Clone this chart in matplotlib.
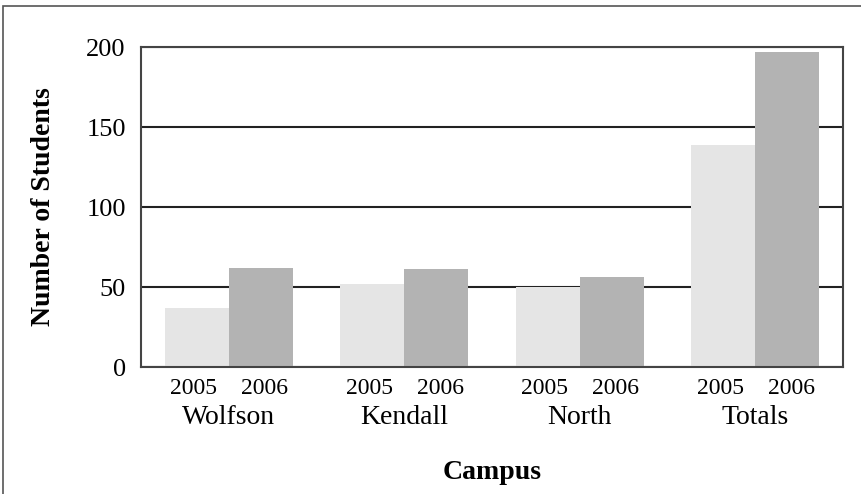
import matplotlib.pyplot as plt
import numpy as np
from matplotlib.patches import Rectangle
from matplotlib.transforms import ScaledTranslation

# data
campuses = ['Wolfson', 'Kendall', 'North', 'Totals']
years = ['2005', '2006']
students_2005 = [37, 52, 50, 139]
students_2006 = [62, 61, 56, 197]

plt.rcParams['font.family'] = ['Liberation Serif', 'DejaVu Serif']

fig = plt.figure(figsize=(8.62, 4.94), dpi=100)
ax = fig.add_axes([141 / 862, 1 - 367 / 494, 702 / 862, 320 / 494])

x = np.arange(len(campuses))
w = 0.364

# gridlines behind the bars
ax.set_axisbelow(True)
ax.yaxis.grid(True, color='#222222', linewidth=1.5)

ax.bar(x - w / 2, students_2005, width=w, color='#e5e5e5', zorder=2)
ax.bar(x + w / 2, students_2006, width=w, color='#b3b3b3', zorder=2)

ax.set_xlim(-0.5, 3.5)
ax.set_ylim(0, 200)
ax.set_yticks([0, 50, 100, 150, 200])
ax.tick_params(axis='y', length=0, pad=11, labelsize=19)

# years under each bar, campus names under each group
ax.set_xticks(np.concatenate([x - w / 2, x + w / 2]))
ax.set_xticklabels([years[0]] * 4 + [years[1]] * 4)
ax.set_xticks(x, minor=True)
ax.set_xticklabels(campuses, minor=True)
ax.tick_params(axis='x', which='major', length=0, pad=8, labelsize=17)
ax.tick_params(axis='x', which='minor', length=0, pad=27, labelsize=20)

# nudge the year labels a little apart
for i, lab in enumerate(ax.get_xticklabels()):
    dx = -3 if i < 4 else 4
    lab.set_transform(lab.get_transform() + ScaledTranslation(dx / 100, 0, fig.dpi_scale_trans))

for s in ax.spines.values():
    s.set_color('#444444')
    s.set_linewidth(1.5)

ax.set_ylabel('Number of Students', fontsize=20, fontweight='bold', labelpad=22)
ax.set_xlabel('Campus', fontsize=20, fontweight='bold', labelpad=22)

# outer frame (clipped on the right and bottom)
fig.patches.append(Rectangle((3 / 862, -0.1), 1.2, 1 - 6 / 494 + 0.1,
                             transform=fig.transFigure, fill=False,
                             edgecolor='#555555', linewidth=1.2))

fig.savefig('out.png', dpi=100)
